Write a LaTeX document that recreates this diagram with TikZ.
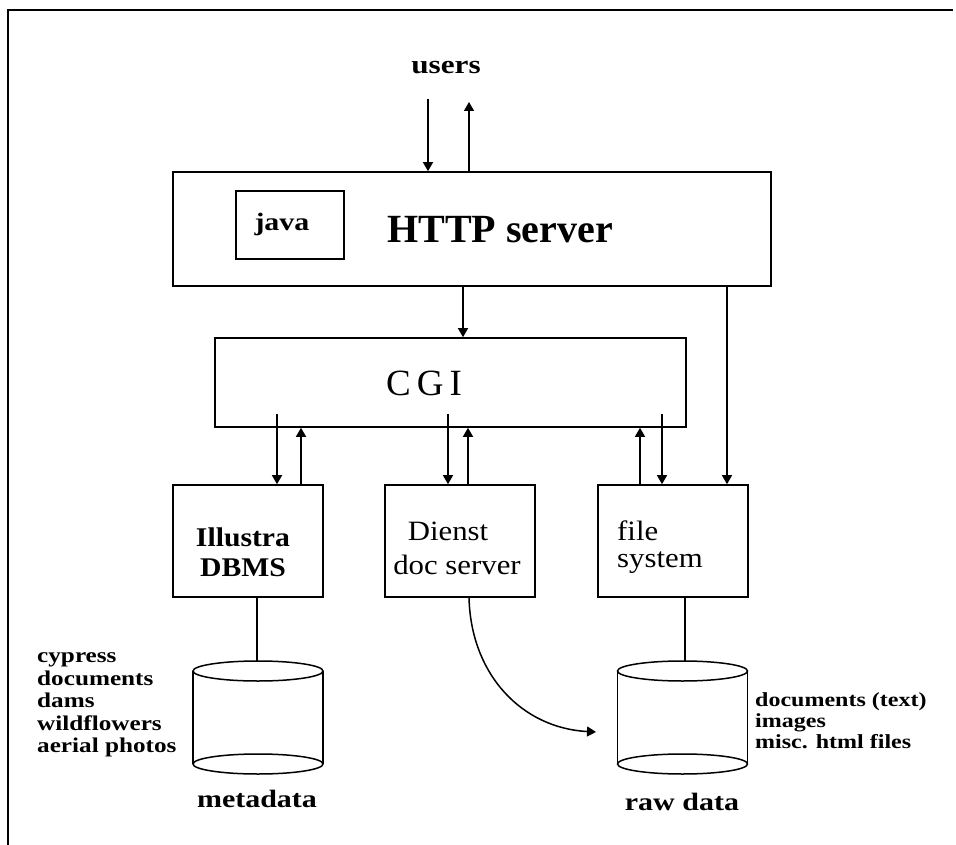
\documentclass[tikz,border=0pt]{standalone}
\usepackage{fontspec}
\setmainfont{Liberation Serif}
\newfontfamily\widefont[FakeStretch=1.2]{Liberation Serif}
\newfontfamily\boxfont[FakeStretch=1.1]{Liberation Serif}
\usetikzlibrary{arrows.meta,calc}

\begin{document}
\begin{tikzpicture}[x=1pt,y=-1pt,
  box/.style={draw, line width=1.6pt, inner sep=0pt},
  wire/.style={line width=1.5pt},
  arr/.style={line width=1.5pt, -{Triangle[length=9pt,width=10pt]}},
  txt/.style={inner sep=0pt, anchor=center},
  bigtxt/.style={txt, font=\bfseries\fontsize{40}{40}\selectfont},
  boxtxt/.style={txt, font=\boxfont\fontsize{28}{28}\selectfont},
  boxbold/.style={txt, font=\boxfont\bfseries\fontsize{27}{27}\selectfont},
  lbl/.style={inner sep=0pt, align=left, font=\widefont\bfseries\fontsize{21}{22.5}\selectfont},
  dbname/.style={txt, font=\widefont\bfseries\fontsize{25}{25}\selectfont}]

\useasboundingbox (0,0) rectangle (956,845);

% frame edges
\draw[line width=1.5pt] (953,10) -- (8,10) -- (8,845);

% main boxes
\node[box, minimum width=598pt, minimum height=114pt] (http) at (472,229) {};
\node[box, minimum width=108pt, minimum height=68pt] (java) at (290,225) {};
\node[box, minimum width=471pt, minimum height=89pt] (cgi) at (450.5,382.5) {};
\node[box, minimum width=150pt, minimum height=112pt] (illustra) at (248,541) {};
\node[box, minimum width=150pt, minimum height=112pt] (dienst) at (460,541) {};
\node[box, minimum width=150pt, minimum height=112pt] (files) at (673,541) {};

% box texts
\node[bigtxt] (httptxt) at (500,230) {HTTP server};
\node[txt, font=\widefont\bfseries\fontsize{25}{25}\selectfont] (javatxt) at (282,224) {java};
\node[txt, font=\fontsize{37}{37}\selectfont] (cgitxt) at (424,383) {C\hspace{6pt}G\hspace{6pt}I};
\node[boxbold] (ill1) at (243,537) {Illustra};
\node[boxbold] (ill2) at (243,568) {DBMS};
\node[boxtxt] (die1) at (448,531) {Dienst};
\node[boxtxt] (die2) at (457,565) {doc server};
\node[boxtxt, anchor=west] (fs1) at (617,531) {file};
\node[boxtxt, anchor=west] (fs2) at (617,563) {system};

% users
\node[txt, font=\widefont\bfseries\fontsize{26}{26}\selectfont] (users) at (446,68) {users};
\coordinate (uin) at (428,99);
\coordinate (uout) at (469,102);
\draw[arr] (uin) -- (uin |- http.north);
\draw[arr] (uout |- http.north) -- (uout);

% HTTP server links
\draw[arr] (463,0 |- http.south) -- (463,0 |- cgi.north);
\draw[arr] (727,0 |- http.south) -- (727,0 |- files.north);

% CGI links
\draw[arr] ($(277,0 |- cgi.south)+(0,-14)$) -- (277,0 |- illustra.north);
\draw[arr] (301,0 |- illustra.north) -- (301,0 |- cgi.south);
\draw[arr] ($(448,0 |- cgi.south)+(0,-14)$) -- (448,0 |- dienst.north);
\draw[arr] (468,0 |- dienst.north) -- (468,0 |- cgi.south);
\draw[arr] (640,0 |- files.north) -- (640,0 |- cgi.south);
\draw[arr] ($(662,0 |- cgi.south)+(0,-14)$) -- (662,0 |- files.north);

% databases
\coordinate (meta) at (258,671);
\coordinate (raw) at (682.5,671);
\foreach \c in {meta,raw}{
  \draw[wire] ($(\c)+(-65,0)$) -- ($(\c)+(-65,93)$);
  \draw[wire] ($(\c)+(65,0)$) -- ($(\c)+(65,93)$);
  \draw[wire] (\c) ellipse [x radius=65pt, y radius=10pt];
  \draw[wire] ($(\c)+(0,93)$) ellipse [x radius=65pt, y radius=10pt];
}
\coordinate (metatop) at (257,661);
\coordinate (rawtop) at (685,661);
\draw[wire] (metatop |- illustra.south) -- (metatop);
\draw[wire] (rawtop |- files.south) -- (rawtop);

\coordinate (rawin) at (596,732);
\draw[arr] (469,0 |- dienst.south) .. controls (471,675) and (522,728) .. (rawin);

% database labels
\node[dbname] (metaname) at (257,799) {metadata};
\node[dbname] (rawname) at (682,802) {raw data};
\node[lbl, anchor=west] (metalist) at (37,705) {cypress\\documents\\dams\\wildflowers\\aerial photos};
\node[lbl, anchor=west, font=\widefont\bfseries\fontsize{20}{21}\selectfont] (rawlist) at (755,721) {documents (text)\\images\\misc. html files};

\end{tikzpicture}
\end{document}
